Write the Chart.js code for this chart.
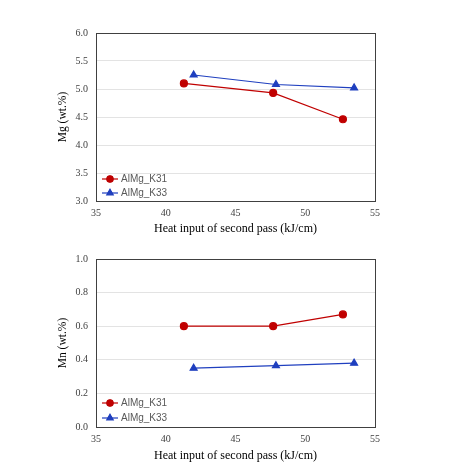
<!DOCTYPE html>
<html>
<head>
<meta charset="utf-8">
<script src="https://cdn.jsdelivr.net/npm/chart.js@4"></script>
<style>
  body { margin:0; background:#fff; }
  .box { position:absolute; left:0; width:470px; height:237px; }
</style>
</head>
<body>
<div class="box" style="top:0"><canvas id="MgPlot" width="470" height="237"></canvas></div>
<div class="box" style="top:237px"><canvas id="MnPlot" width="470" height="237"></canvas></div>
<script>
// heat input of second pass (kJ/cm)
var heatK31 = [41.3, 47.7, 52.7];
var heatK33 = [42.0, 47.9, 53.5];
// Mg content (wt.%)
var mgK31 = [5.10, 4.93, 4.46];
var mgK33 = [5.25, 5.08, 5.02];
// Mn content (wt.%)
var mnK31 = [0.60, 0.60, 0.67];
var mnK33 = [0.35, 0.365, 0.38];
var seriesNames = ['AlMg_K31', 'AlMg_K33'];

var red = '#c00000';
var blue = '#1f3fbf';
var serif = "'Liberation Serif', 'DejaVu Serif', serif";

function pts(xs, ys) {
  var arr = [];
  for (var i = 0; i < xs.length; i++) {
    arr.push({x: xs[i], y: ys[i]});
  }
  return arr;
}

// frame + legend drawn inside the plot area
var framePlugin = {
  id: 'frame',
  afterDraw: function(chart, args, opts) {
    var c = chart.ctx, a = chart.chartArea;
    c.save();
    c.strokeStyle = '#404040';
    c.lineWidth = 1;
    c.strokeRect(Math.round(a.left)+0.5, Math.round(a.top)+0.5, Math.round(a.right-a.left), Math.round(a.bottom-a.top));
    var ds = chart.data.datasets;
    for (var i = 0; i < ds.length; i++) {
      var y = a.bottom - opts.rowsFromBottom[i];
      var x0 = a.left + 6;
      c.strokeStyle = ds[i].borderColor;
      c.lineWidth = 1.2;
      c.beginPath(); c.moveTo(x0, y); c.lineTo(x0+16, y); c.stroke();
      Chart.helpers.drawPoint(c, {pointStyle: ds[i].pointStyle, radius: ds[i].pointRadius - 0.3, borderWidth: 1}, x0+8, y);
      c.fillStyle = ds[i].borderColor;
      c.fill();
      c.fillStyle = '#595959';
      c.font = "10px 'Liberation Sans', sans-serif";
      c.textBaseline = 'middle';
      c.fillText(ds[i].label, x0+19, y+0.5);
    }
    c.restore();
  }
};

function makeChart(id, k31, k33, yMin, yMax, yStep, yTitle, pad) {
  var ctx = document.getElementById(id).getContext('2d');
  return new Chart(ctx, {
    type: 'scatter',
    data: {
      datasets: [{
        label: seriesNames[0],
        data: pts(heatK31, k31),
        showLine: true,
        borderColor: red,
        backgroundColor: red,
        borderWidth: 1.2,
        pointStyle: 'circle',
        pointRadius: 3.5,
        pointHoverRadius: 3.5
      }, {
        label: seriesNames[1],
        data: pts(heatK33, k33),
        showLine: true,
        borderColor: blue,
        backgroundColor: blue,
        borderWidth: 1.2,
        pointStyle: 'triangle',
        pointRadius: 4,
        pointHoverRadius: 4
      }]
    },
    options: {
      responsive: false,
      animation: false,
      layout: {padding: pad},
      plugins: {
        legend: {display: false},
        tooltip: {enabled: false},
        frame: {rowsFromBottom: [pad.legA, pad.legB]}
      },
      scales: {
        x: {
          type: 'linear',
          min: 35, max: 55,
          grid: {display: false, drawTicks: false},
          border: {display: false},
          ticks: {stepSize: 5, padding: 6, color: '#404040', font: {family: serif, size: 10}},
          title: {display: true, text: 'Heat input of second pass (kJ/cm)', color: '#000',
                  font: {family: serif, size: 12}, padding: {top: 3, bottom: 0}},
          afterFit: function(s) { s.height = pad.xh; }
        },
        y: {
          min: yMin, max: yMax,
          grid: {color: '#e3e3e3', drawTicks: false},
          border: {display: false},
          ticks: {stepSize: yStep, padding: 8, color: '#404040', font: {family: serif, size: 10},
                  callback: function(v) { return v.toFixed(1); }},
          title: {display: true, text: yTitle, color: '#000',
                  font: {family: serif, size: 11.5}, padding: {top: 0, bottom: 0}},
          afterFit: function(s) { s.width = pad.yw; }
        }
      }
    },
    plugins: [framePlugin]
  });
}

makeChart('MgPlot', mgK31, mgK33, 3.0, 6.0, 0.5, 'Mg (wt.%)',
  {left: 56, right: 95, top: 33, bottom: 1, yw: 40, xh: 35, legA: 22, legB: 8});
makeChart('MnPlot', mnK31, mnK33, 0.0, 1.0, 0.2, 'Mn (wt.%)',
  {left: 56, right: 95, top: 22, bottom: 11, yw: 40, xh: 36, legA: 24, legB: 9});
</script>
</body>
</html>
